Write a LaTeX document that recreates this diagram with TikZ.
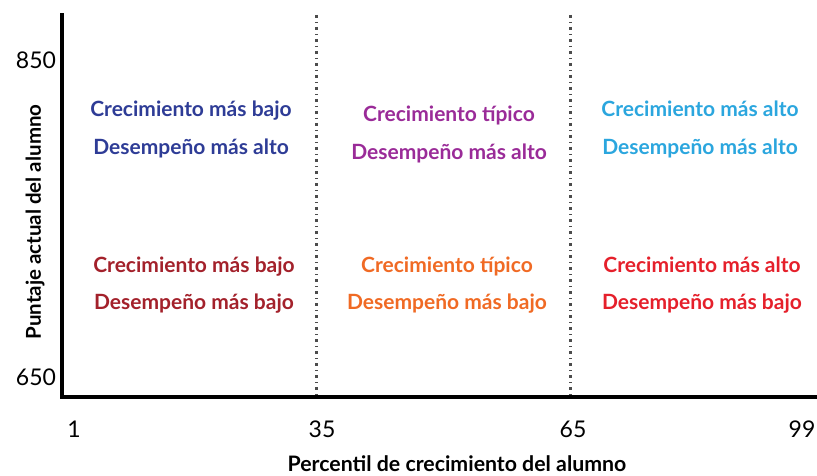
\documentclass[tikz,border=0pt]{standalone}
\usepackage{fontspec}
\setmainfont{Lato}
\usepackage{tikz}
\usepackage{xcolor}
\usetikzlibrary{positioning}

\definecolor{hiblue}{HTML}{2E3C96}
\definecolor{hipurple}{HTML}{9A2B98}
\definecolor{hicyan}{HTML}{2BA6DE}
\definecolor{lodark}{HTML}{A3212B}
\definecolor{loorange}{HTML}{F06A24}
\definecolor{lored}{HTML}{E5202B}

\tikzset{
  cell/.style={font=\bfseries\fontsize{21}{24}\selectfont, inner sep=0pt,
    text height=16pt, text depth=4pt},
  ticklabel/.style={font=\fontsize{23}{26}\selectfont, inner sep=0pt},
  axistitle/.style={font=\bfseries\fontsize{21.3}{24}\selectfont, inner sep=0pt},
  divider/.style={gray!60!black, line width=3pt, dash pattern=on 3pt off 4pt on 1pt off 4pt}
}

\begin{document}
\begin{tikzpicture}[x=1pt, y=1pt]
\useasboundingbox (0,0) rectangle (817,475);

% axes
\coordinate (top) at (62,460);
\coordinate (origin) at (62,78);
\coordinate (right) at (817,78);

% thirds of the percentile range
\coordinate (d1top) at (316,460);
\coordinate (d1bot) at (316,78);
\coordinate (d2top) at (570,460);
\coordinate (d2bot) at (570,78);
\draw[divider] (d1top) -- (d1bot);
\draw[divider] (d2top) -- (d2bot);

\draw[line width=3.5pt, line cap=rect] (top) -- (origin) -- (right);

% y ticks
\node[ticklabel] (y850) at (36,415) {850};
\node[ticklabel] (y650) at (36,98) {650};

% x ticks
\node[ticklabel] (x1) at (74,46) {1};
\node[ticklabel] (x35) at (322,46) {35};
\node[ticklabel] (x65) at (573,46) {65};
\node[ticklabel] (x99) at (802,46) {99};

% axis titles
\node[axistitle] (xtitle) at (457,11) {Percentil de crecimiento del alumno};
\node[axistitle, font=\bfseries\fontsize{20.5}{24}\selectfont, rotate=90] (ytitle) at (35,253) {Puntaje actual del alumno};

% upper row
\node[cell, text=hiblue] (lowgrow) at (191,364) {Crecimiento más bajo};
\node[cell, text=hiblue, below=17pt of lowgrow] (highperf) {Desempeño más alto};

\node[cell, text=hipurple] (typgrow) at (449,359) {Crecimiento típico};
\node[cell, text=hipurple, below=17pt of typgrow] (highperf2) {Desempeño más alto};

\node[cell, text=hicyan] (highgrow) at (700,364) {Crecimiento más alto};
\node[cell, text=hicyan, below=17pt of highgrow] (highperf3) {Desempeño más alto};

% lower row
\node[cell, text=lodark] (lowgrow2) at (194,209) {Crecimiento más bajo};
\node[cell, text=lodark, below=17pt of lowgrow2] (lowperf) {Desempeño más bajo};

\node[cell, text=loorange] (typgrow2) at (447,209) {Crecimiento típico};
\node[cell, text=loorange, below=17pt of typgrow2] (lowperf2) {Desempeño más bajo};

\node[cell, text=lored] (highgrow2) at (702,209) {Crecimiento más alto};
\node[cell, text=lored, below=17pt of highgrow2] (lowperf3) {Desempeño más bajo};
\end{tikzpicture}
\end{document}
